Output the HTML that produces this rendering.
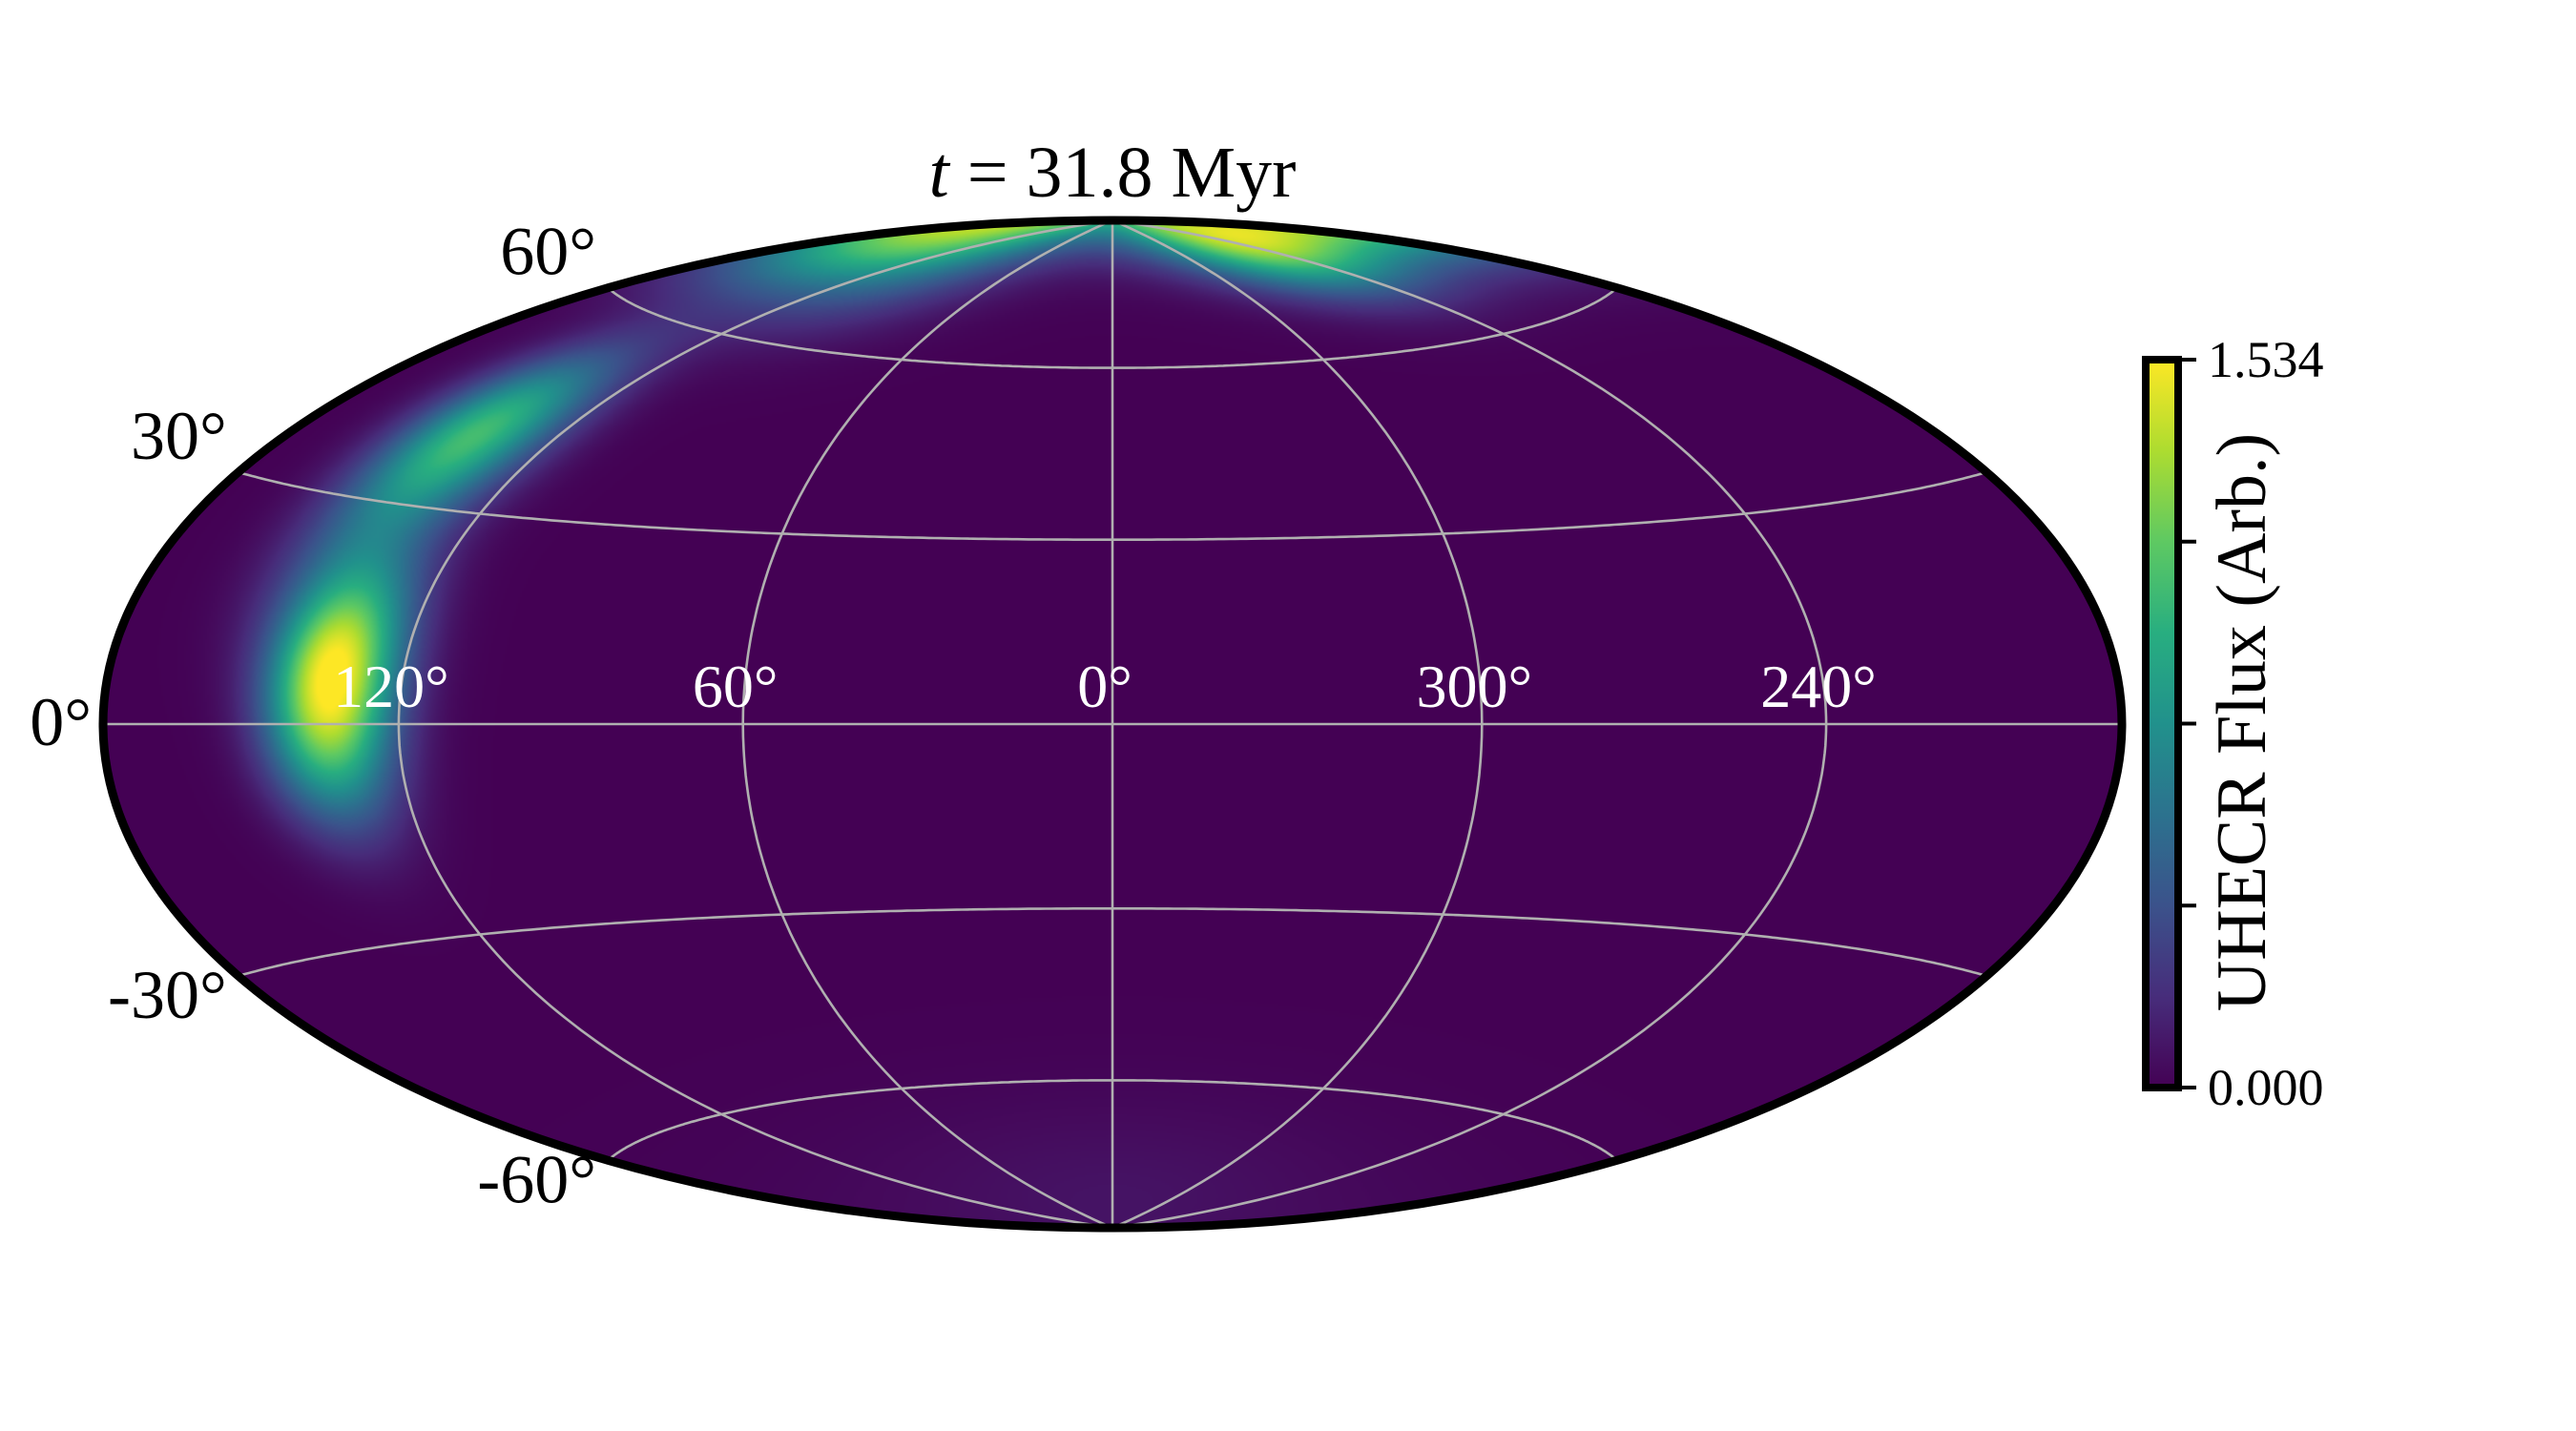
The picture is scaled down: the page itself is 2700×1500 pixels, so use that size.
<!DOCTYPE html>
<html><head><meta charset="utf-8">
<style>
html,body{margin:0;padding:0;background:#fff;}
#wrap{position:relative;width:2700px;height:1500px;overflow:hidden;background:#fff;}
#sky{position:absolute;left:108px;top:231px;width:2116px;height:1056px;}
#ov{position:absolute;left:0;top:0;}
text{font-family:"Liberation Serif","DejaVu Serif",serif;}
</style></head>
<body>
<div id="wrap">
<canvas id="sky" width="1058" height="528"></canvas>
<svg id="ov" width="2700" height="1500">
<defs><linearGradient id="vir" x1="0" y1="1" x2="0" y2="0">
<stop offset="0" stop-color="#440154"/><stop offset="0.125" stop-color="#472d7b"/>
<stop offset="0.25" stop-color="#3b528b"/><stop offset="0.375" stop-color="#2c728e"/>
<stop offset="0.5" stop-color="#21918c"/><stop offset="0.625" stop-color="#28ae80"/>
<stop offset="0.75" stop-color="#5ec962"/><stop offset="0.875" stop-color="#addc30"/>
<stop offset="1" stop-color="#fde725"/></linearGradient></defs>
<g id="grid"></g>
<ellipse cx="1166" cy="759" rx="1058" ry="528" fill="none" stroke="#000" stroke-width="9"/>
<g id="labels"></g>
<text x="1166" y="206" font-size="76" text-anchor="middle"><tspan font-style="italic">t</tspan> = 31.8 Myr</text>
<rect x="2249" y="377" width="34" height="763" fill="url(#vir)" stroke="#000" stroke-width="8"/>
<g id="cbticks"></g>
<text transform="translate(2374,757) rotate(-90)" font-size="74" text-anchor="middle">UHECR Flux (Arb.)</text>
</svg>
</div>
<script>
// data
const srcLon = [133, 133, 138, 140, 245, 200, 160, 110, 0];
const srcLat = [9, -3, 41, 22, 80, 84, 78, 74, -85];
const srcAmp = [1.15, 0.8, 1.0, 0.35, 0.95, 0.3, 0.8, 0.35, 0.08];
const srcSigma = [8.5, 8.5, 9, 10, 7.5, 9, 8.5, 9, 15];
const vmin = 0, vmax = 1.534;
const latTicks = [60, 30, 0, -30, -60];
const latTickText = ["60°", "30°", "0°", "-30°", "-60°"];
const lonTicks = [120, 60, 0, 300, 240];
const lonTickText = ["120°", "60°", "0°", "300°", "240°"];
const cbTickVals = [0, 0.3835, 0.767, 1.1505, 1.534];
const cbTickText = ["0.000", "", "", "", "1.534"];

const CX = 1166, CY = 759, RX = 1058, RY = 528;
const D = Math.PI / 180;
function proj(lon, lat) {
  let l = ((lon + 180) % 360 + 360) % 360 - 180;
  l = -l * D; const p = lat * D;
  const den = Math.sqrt(1 + Math.cos(p) * Math.cos(l / 2));
  const u = Math.cos(p) * Math.sin(l / 2) / den;
  const v = Math.sin(p) / den;
  return [CX + u * RX, CY - v * RY];
}
const vir = [[68,1,84],[71,45,123],[59,82,139],[44,114,142],[33,145,140],[40,174,128],[94,201,98],[173,220,48],[253,231,37]];
function cmap(t) {
  t = Math.max(0, Math.min(1, t)) * 8; const i = Math.min(7, Math.floor(t)); const f = t - i;
  return [0,1,2].map(k => vir[i][k] + (vir[i+1][k] - vir[i][k]) * f);
}
(function () {
  const c = document.getElementById('sky'); const ctx = c.getContext('2d');
  const W = c.width, H = c.height; const img = ctx.createImageData(W, H);
  const sv = srcLon.map((lo, i) => { const la = srcLat[i] * D, l = lo * D; return [Math.cos(la)*Math.cos(l), Math.cos(la)*Math.sin(l), Math.sin(la)]; });
  for (let j = 0; j < H; j++) for (let i = 0; i < W; i++) {
    const u = ((i + 0.5) / W) * 2 - 1, v = 1 - ((j + 0.5) / H) * 2;
    const idx = (j * W + i) * 4;
    if (u*u + v*v > 1.0) { img.data[idx+3] = 0; continue; }
    const X = u * 2 * Math.SQRT2, Y = v * Math.SQRT2;
    const z = Math.sqrt(Math.max(0, 1 - X*X/16 - Y*Y/4));
    const lon = -2 * Math.atan2(z * X, 2 * (2*z*z - 1));
    const lat = Math.asin(Math.max(-1, Math.min(1, z * Y)));
    const p = [Math.cos(lat)*Math.cos(lon), Math.cos(lat)*Math.sin(lon), Math.sin(lat)];
    let val = 0;
    for (let s = 0; s < sv.length; s++) {
      const dot = Math.max(-1, Math.min(1, p[0]*sv[s][0] + p[1]*sv[s][1] + p[2]*sv[s][2]));
      const d = Math.acos(dot) / D;
      val += srcAmp[s] * Math.exp(-d*d / (2 * srcSigma[s] * srcSigma[s]));
    }
    const col = cmap((val - vmin) / (vmax - vmin));
    img.data[idx] = col[0]; img.data[idx+1] = col[1]; img.data[idx+2] = col[2]; img.data[idx+3] = 255;
  }
  ctx.putImageData(img, 0, 0);
})();
const NS = 'http://www.w3.org/2000/svg';
const grid = document.getElementById('grid');
function addPath(pts, name) {
  const el = document.createElementNS(NS, 'path');
  el.setAttribute('d', 'M' + pts.map(p => p[0].toFixed(1) + ',' + p[1].toFixed(1)).join('L'));
  el.setAttribute('fill', 'none'); el.setAttribute('stroke', '#b0b0b0'); el.setAttribute('stroke-width', '2.6');
  
  
  grid.appendChild(el);
}
[-60, -30, 0, 30, 60].forEach(la => { const pts = []; for (let l = -179.99; l <= 180; l += 1) pts.push(proj(l, la)); addPath(pts, 'parallel-' + la); });
[0, 60, 120, 240, 300].forEach(lo => { const pts = []; for (let la = -90; la <= 90; la += 1) pts.push(proj(lo, la)); addPath(pts, 'meridian-' + lo); });
const lab = document.getElementById('labels');
latTicks.forEach((la, i) => {
  const p = proj(179.99, la);
  const t = document.createElementNS(NS, 'text');
  t.setAttribute('x', (p[0] - 12).toFixed(1));
  t.setAttribute('y', (p[1] + (la > 0 ? -14 : la < 0 ? 44 : 22)).toFixed(1));
  t.setAttribute('font-size', '72'); t.setAttribute('text-anchor', 'end');
  t.textContent = latTickText[i];
  
  
  lab.appendChild(t);
});
lonTicks.forEach((lo, i) => {
  const p = proj(lo, 0);
  const t = document.createElementNS(NS, 'text');
  t.setAttribute('x', (p[0] - 8).toFixed(1)); t.setAttribute('y', (p[1] - 18).toFixed(1));
  t.setAttribute('font-size', '64'); t.setAttribute('text-anchor', 'middle'); t.setAttribute('fill', '#fff');
  t.textContent = lonTickText[i];
  
  
  lab.appendChild(t);
});
const cb = document.getElementById('cbticks');
const cbTop = 377, cbBot = 1140;
cbTickVals.forEach((v, i) => {
  const y = cbBot - (v - vmin) / (vmax - vmin) * (cbBot - cbTop);
  const ln = document.createElementNS(NS, 'line');
  ln.setAttribute('x1', 2283); ln.setAttribute('x2', 2302); ln.setAttribute('y1', y); ln.setAttribute('y2', y);
  ln.setAttribute('stroke', '#000'); ln.setAttribute('stroke-width', '4');
  
  
  cb.appendChild(ln);
  if (cbTickText[i]) {
    const t = document.createElementNS(NS, 'text');
    t.setAttribute('x', 2314); t.setAttribute('y', y + 18);
    t.setAttribute('font-size', '54');
    t.textContent = cbTickText[i];
    
    
    cb.appendChild(t);
  }
});
</script>
</body></html>
